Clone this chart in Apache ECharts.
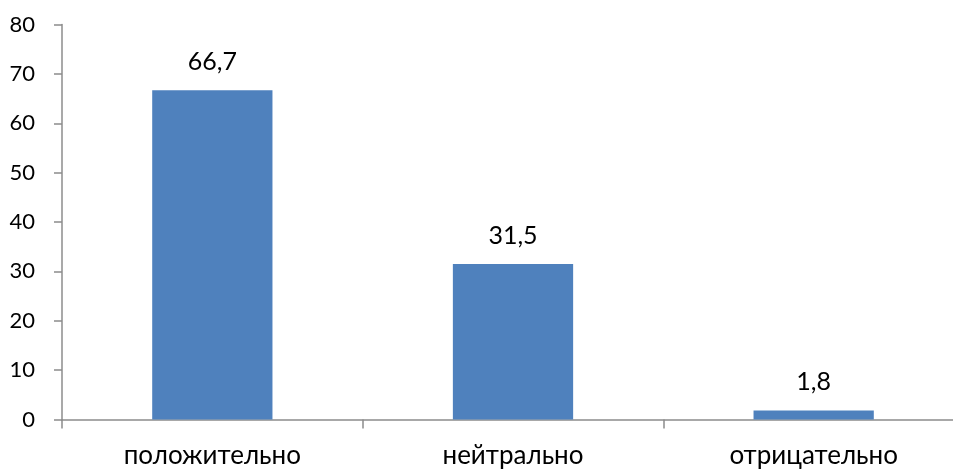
<!DOCTYPE html>
<html>
<head>
<meta charset="utf-8">
<script src="https://cdn.jsdelivr.net/npm/echarts@6/dist/echarts.min.js"></script>
<style>
  html, body { margin: 0; padding: 0; background: #fff; overflow: hidden; }
  /* the category axis runs slightly past the right edge of the window */
  #chart { width: 964px; height: 470px; }
</style>
</head>
<body>
<div id="chart"></div>
<script>
// Answer categories and their shares, percent
const categories = ['положительно', 'нейтрально', 'отрицательно'];
const shares = [66.7, 31.5, 1.8];
// Value axis range
const yMin = 0;
const yMax = 80;
const yStep = 10;

const fmt = v => String(v).replace('.', ',');
const font = 'Lato, "Open Sans", sans-serif';
const axisGray = '#8c8c8c';

const chart = echarts.init(document.getElementById('chart'), null, { renderer: 'canvas' });
chart.setOption({
  animation: false,
  grid: { left: 62, right: 0, top: 24.5, bottom: 50.5, containLabel: false, outerBoundsMode: 'none' },
  xAxis: {
    type: 'category',
    data: categories,
    boundaryGap: true,
    axisLine: { lineStyle: { color: axisGray, width: 1.5 } },
    axisTick: { show: true, length: 9, alignWithLabel: false, lineStyle: { color: axisGray, width: 1.5 } },
    axisLabel: { color: '#000', fontFamily: font, fontSize: 26, margin: 23, interval: 0 }
  },
  yAxis: {
    type: 'value',
    min: yMin,
    max: yMax,
    interval: yStep,
    splitLine: { show: false },
    axisLine: { show: true, lineStyle: { color: axisGray, width: 1.5 } },
    axisTick: { show: true, length: 8, lineStyle: { color: axisGray, width: 1.5 } },
    axisLabel: { color: '#000', fontFamily: font, fontSize: 22, margin: 27 }
  },
  series: [{
    type: 'bar',
    data: shares,
    barWidth: '40%',
    itemStyle: { color: '#4F81BD' },
    label: {
      show: true,
      position: 'top',
      distance: 16,
      color: '#000',
      fontFamily: font,
      fontSize: 25,
      formatter: p => fmt(p.value)
    }
  }]
});
</script>
</body>
</html>
